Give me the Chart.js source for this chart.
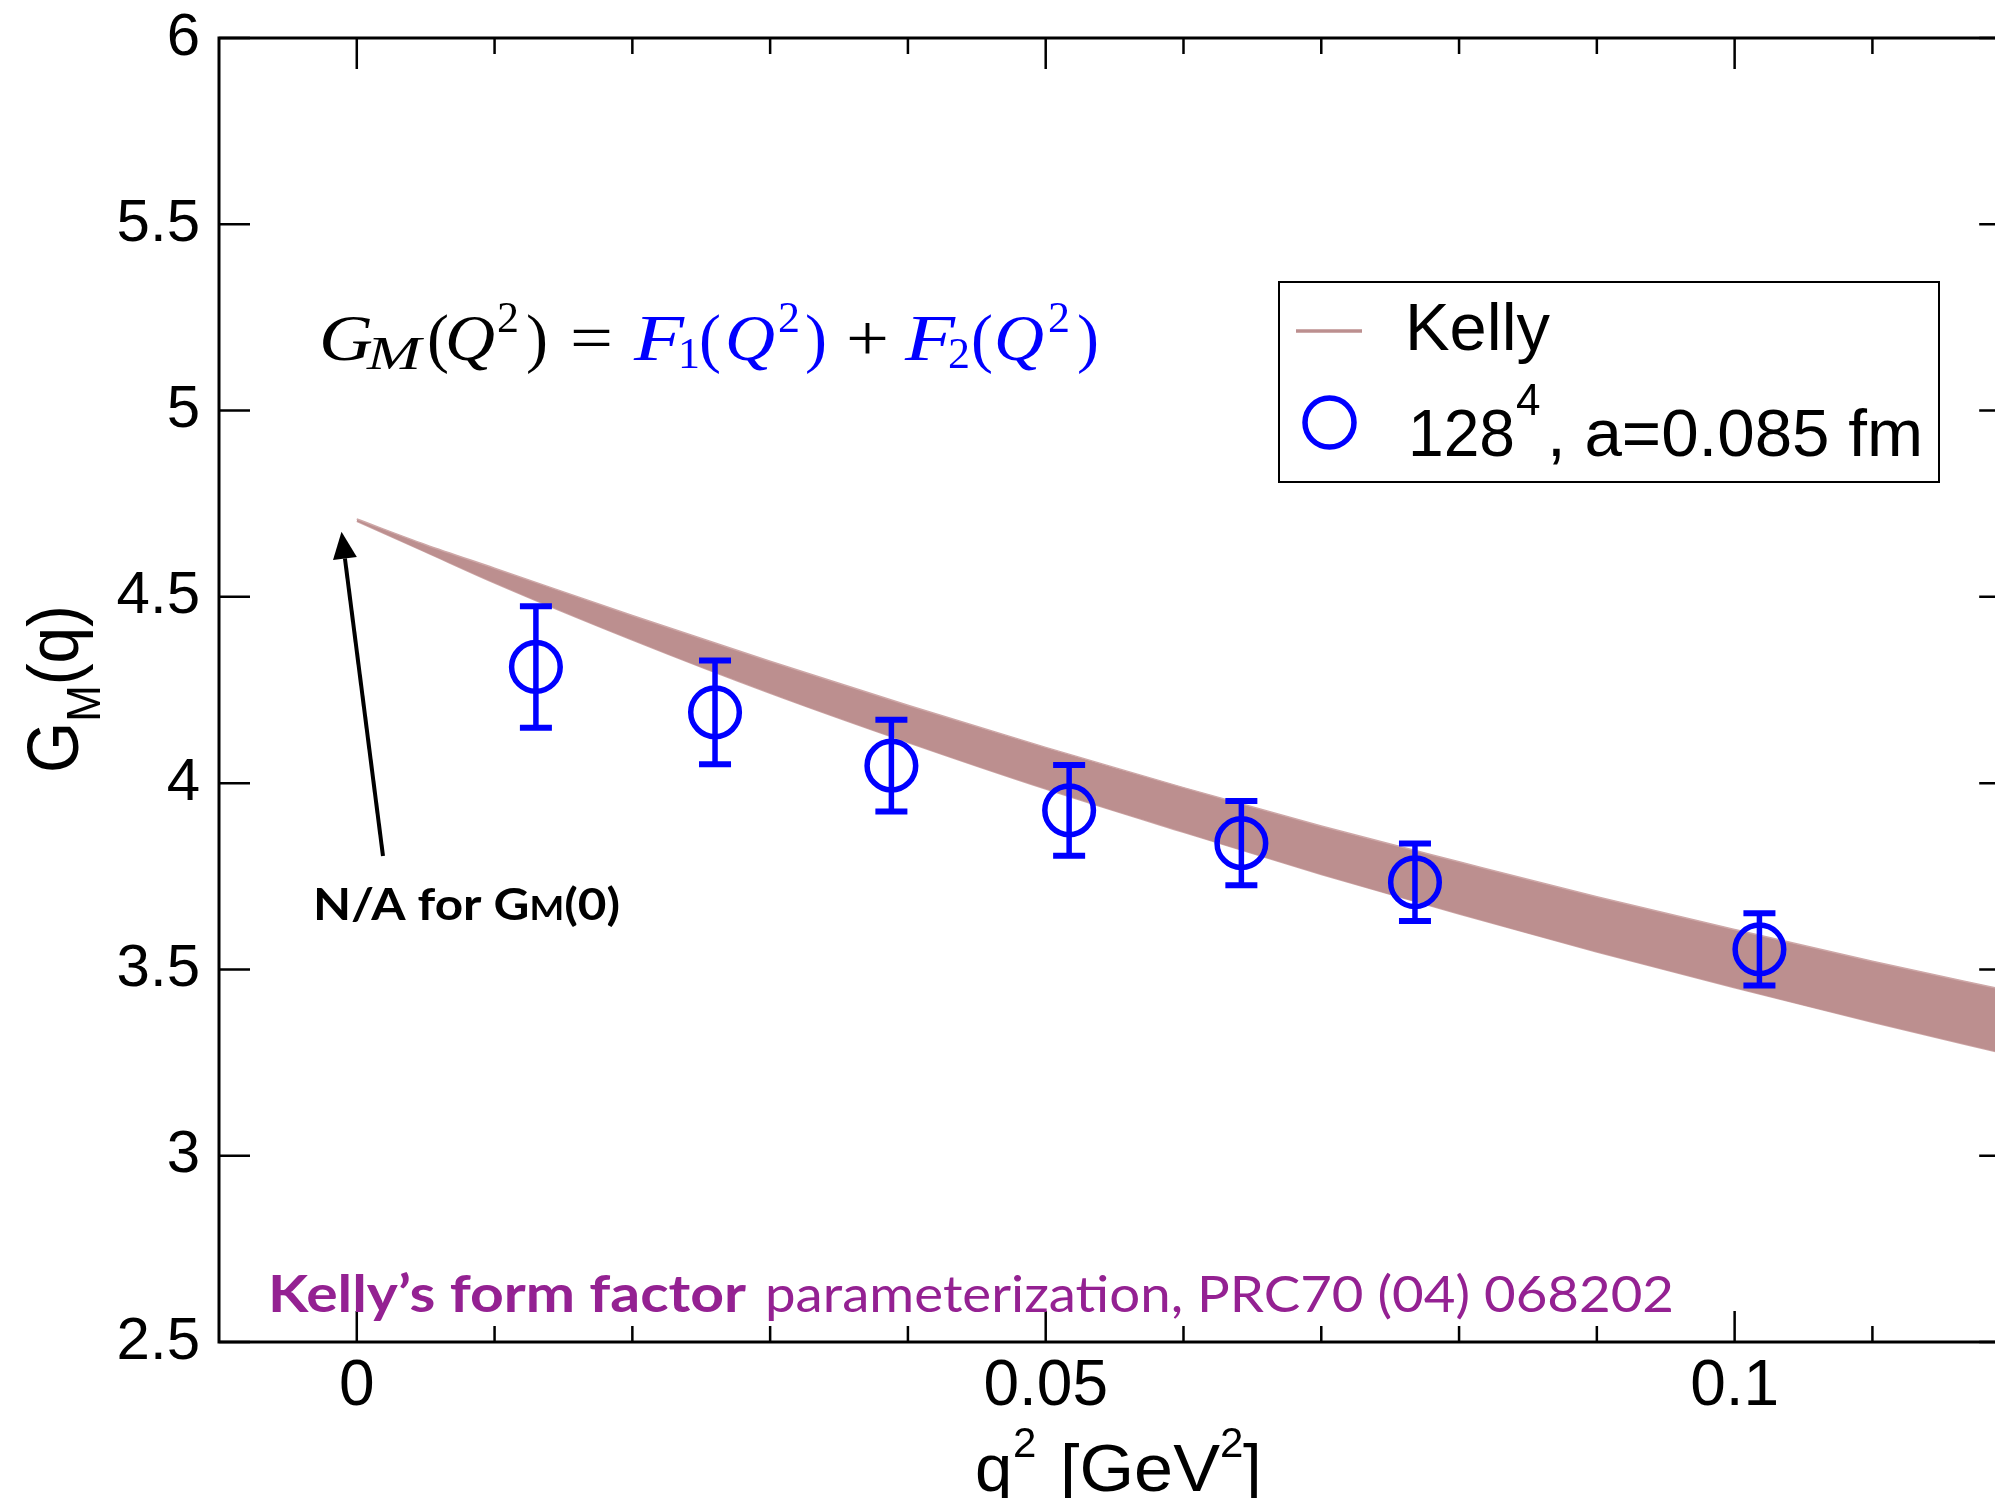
<!DOCTYPE html>
<html><head><meta charset="utf-8">
<script src="https://cdn.jsdelivr.net/npm/chart.js@4.4.1/dist/chart.umd.min.js"></script>
<style>
html,body{margin:0;padding:0;background:#fff;overflow:hidden;width:1995px;height:1498px;}
#wrap{position:absolute;left:0;top:0;width:2040px;height:1498px;}
canvas{display:block;}
</style></head><body>
<div id="wrap"><canvas id="c" width="2040" height="1498"></canvas></div>
<script>
// ---- data ----
const bandQ2    = [0,     0.005, 0.01,  0.02,  0.03,  0.04,  0.05,  0.06,  0.07,  0.08,  0.09,  0.10,  0.11,  0.12];
const bandUpper = [4.709, 4.640, 4.577, 4.450, 4.327, 4.209, 4.096, 3.988, 3.885, 3.789, 3.695, 3.607, 3.522, 3.442];
const bandLower = [4.703, 4.620, 4.537, 4.384, 4.241, 4.109, 3.984, 3.868, 3.755, 3.649, 3.547, 3.451, 3.358, 3.270];

const latticeQ2  = [0.0130, 0.0260, 0.0388, 0.0517, 0.0642, 0.0768, 0.1018];
const latticeGM  = [4.312,  4.190,  4.047,  3.927,  3.839,  3.734,  3.554];
const latticeErr = [0.163,  0.139,  0.123,  0.122,  0.113,  0.104,  0.097];

const xTicks = [0, 0.05, 0.1];
const xTickLabels = ['0', '0.05', '0.1'];
const xMinorTicks = [0.01, 0.02, 0.03, 0.04, 0.06, 0.07, 0.08, 0.09, 0.11];
const yTicks = [2.5, 3, 3.5, 4, 4.5, 5, 5.5, 6];
const yTickLabels = ['2.5', '3', '3.5', '4', '4.5', '5', '5.5', '6'];

const bandName = 'Kelly';
const latticeName = '128';
const latticeSup = '4';
const latticeRest = ', a=0.085 fm';

// ---- styles ----
const BAND = 'rgb(188,143,143)';
const BAND_EDGE = 'rgb(206,168,168)';
const BLUE = '#0000ff';
const PURPLE = '#942192';
const SANS = "'Liberation Sans', Arial, Helvetica, sans-serif";
const SERIF = "'Liberation Serif', 'Times New Roman', serif";
const HUM = "Lato, 'Open Sans', sans-serif";

function drawRuns(ctx, runs, x0, y0, targetW, rotate) {
  ctx.save();
  let total = 0;
  runs.forEach(r => { ctx.font = r.f; r.w = ctx.measureText(r.t).width; total += r.w; });
  const sx = targetW ? targetW / total : 1;
  ctx.translate(x0, y0);
  if (rotate) ctx.rotate(-Math.PI / 2);
  ctx.scale(sx, 1);
  ctx.textBaseline = 'alphabetic';
  ctx.textAlign = 'left';
  let x = 0;
  runs.forEach(r => { ctx.font = r.f; ctx.fillStyle = r.c || '#000'; ctx.fillText(r.t, x, r.dy || 0); x += r.w; });
  ctx.restore();
}
function put(ctx, t, f, c, x, y, w) {
  drawRuns(ctx, [{ t: t, f: f, c: c }], x, y, w);
}

const errorBarPlugin = {
  id: 'errorBars',
  afterDatasetsDraw(chart) {
    const { ctx, scales: { x, y } } = chart;
    ctx.save();
    ctx.strokeStyle = BLUE;
    ctx.lineCap = 'butt';
    latticeQ2.forEach((q, i) => {
      const px = x.getPixelForValue(q);
      const top = y.getPixelForValue(latticeGM[i] + latticeErr[i]);
      const bot = y.getPixelForValue(latticeGM[i] - latticeErr[i]);
      ctx.lineWidth = 5.5;
      ctx.beginPath(); ctx.moveTo(px, top); ctx.lineTo(px, bot); ctx.stroke();
      ctx.lineWidth = 6;
      ctx.beginPath();
      ctx.moveTo(px - 16, top); ctx.lineTo(px + 16, top);
      ctx.moveTo(px - 16, bot); ctx.lineTo(px + 16, bot);
      ctx.stroke();
    });
    ctx.restore();
  }
};

const framePlugin = {
  id: 'frame',
  afterDraw(chart) {
    const { ctx, chartArea: a, scales: { x, y } } = chart;
    ctx.save();
    ctx.strokeStyle = '#000';
    ctx.lineWidth = 3;
    ctx.strokeRect(a.left, a.top, a.right - a.left, a.bottom - a.top);
    ctx.lineWidth = 2.5;
    ctx.beginPath();
    xTicks.forEach(v => { const p = x.getPixelForValue(v);
      ctx.moveTo(p, a.bottom); ctx.lineTo(p, a.bottom - 31);
      ctx.moveTo(p, a.top); ctx.lineTo(p, a.top + 31); });
    xMinorTicks.forEach(v => { const p = x.getPixelForValue(v);
      ctx.moveTo(p, a.bottom); ctx.lineTo(p, a.bottom - 16);
      ctx.moveTo(p, a.top); ctx.lineTo(p, a.top + 16); });
    yTicks.forEach(v => { const p = y.getPixelForValue(v);
      ctx.moveTo(a.left, p); ctx.lineTo(a.left + 31, p);
      ctx.moveTo(a.right, p); ctx.lineTo(a.right - 31, p); });
    ctx.stroke();
    ctx.restore();
  }
};

const textPlugin = {
  id: 'texts',
  afterDraw(chart) {
    const ctx = chart.ctx;
    // y-axis title G_M(q)
    drawRuns(ctx, [
      { t: 'G', f: `72px ${SANS}` },
      { t: 'M', f: `48px ${SANS}`, dy: 22 },
      { t: '(q)', f: `72px ${SANS}` }
    ], 78, 773, 168, true);
    // x-axis title q^2 [GeV^2]
    put(ctx, 'q', `67px ${SANS}`, '#000', 975, 1491);
    put(ctx, '2', `42px ${SANS}`, '#000', 1013, 1457);
    put(ctx, '[GeV', `67px ${SANS}`, '#000', 1060, 1491, 160);
    put(ctx, '2', `42px ${SANS}`, '#000', 1220, 1457);
    put(ctx, ']', `67px ${SANS}`, '#000', 1243, 1491);

    // equation
    const it = `italic 66px ${SERIF}`, up = `66px ${SERIF}`, sIt = `italic 46px ${SERIF}`, sUp = `44px ${SERIF}`;
    put(ctx, 'G', it, '#000', 319, 360, 54);
    put(ctx, 'M', sIt, '#000', 367, 369, 54);
    put(ctx, '(', up, '#000', 427, 360);
    put(ctx, 'Q', it, '#000', 445, 360, 50);
    put(ctx, '2', sUp, '#000', 497, 332);
    put(ctx, ')', up, '#000', 526, 360);
    put(ctx, '=', up, '#000', 570, 360, 43);
    put(ctx, 'F', it, BLUE, 634, 360, 50);
    put(ctx, '1', sUp, BLUE, 678, 368);
    put(ctx, '(', up, BLUE, 699, 360);
    put(ctx, 'Q', it, BLUE, 725, 360, 50);
    put(ctx, '2', sUp, BLUE, 778, 332);
    put(ctx, ')', up, BLUE, 805, 360);
    put(ctx, '+', up, '#000', 846, 360, 43);
    put(ctx, 'F', it, BLUE, 905, 360, 50);
    put(ctx, '2', sUp, BLUE, 948, 368);
    put(ctx, '(', up, BLUE, 971, 360);
    put(ctx, 'Q', it, BLUE, 994, 360, 50);
    put(ctx, '2', sUp, BLUE, 1048, 332);
    put(ctx, ')', up, BLUE, 1077, 360);

    // arrow + note
    ctx.save();
    ctx.strokeStyle = '#000'; ctx.fillStyle = '#000'; ctx.lineWidth = 4;
    const x1 = 383, y1 = 856, x2 = 341.5, y2 = 531.7;
    const ang = Math.atan2(y2 - y1, x2 - x1);
    const hl = 27, hw = 12;
    const bx = x2 - hl * Math.cos(ang), by = y2 - hl * Math.sin(ang);
    ctx.beginPath(); ctx.moveTo(x1, y1); ctx.lineTo(bx, by); ctx.stroke();
    ctx.beginPath();
    ctx.moveTo(x2, y2);
    ctx.lineTo(bx + hw * Math.sin(ang), by - hw * Math.cos(ang));
    ctx.lineTo(bx - hw * Math.sin(ang), by + hw * Math.cos(ang));
    ctx.closePath(); ctx.fill();
    ctx.restore();
    drawRuns(ctx, [
      { t: 'N/A for G', f: `bold 43px ${HUM}` },
      { t: 'M', f: `bold 32px ${HUM}` },
      { t: '(0)', f: `bold 43px ${HUM}` }
    ], 313, 920, 307);

    // reference note
    put(ctx, 'Kelly\u2019s form factor', `bold 51px ${HUM}`, PURPLE, 268, 1312, 478);
    put(ctx, 'parameterization, PRC70 (04) 068202', `51px ${HUM}`, PURPLE, 765, 1312, 909);

    // legend
    ctx.save();
    ctx.fillStyle = '#fff'; ctx.fillRect(1279, 282, 660, 200);
    ctx.strokeStyle = '#000'; ctx.lineWidth = 2; ctx.strokeRect(1279, 282, 660, 200);
    ctx.strokeStyle = BAND; ctx.lineWidth = 3.5;
    ctx.beginPath(); ctx.moveTo(1296, 331); ctx.lineTo(1362, 331); ctx.stroke();
    ctx.strokeStyle = BLUE; ctx.lineWidth = 5.5;
    ctx.beginPath(); ctx.arc(1329.5, 422.5, 24.5, 0, Math.PI * 2); ctx.stroke();
    ctx.restore();
    put(ctx, bandName, `67px ${SANS}`, '#000', 1405, 350, 145);
    put(ctx, latticeName, `67px ${SANS}`, '#000', 1408, 456, 107);
    put(ctx, latticeSup, `44px ${SANS}`, '#000', 1516, 415);
    put(ctx, latticeRest, `67px ${SANS}`, '#000', 1547, 456, 376);
  }
};

const ctxEl = document.getElementById('c');
new Chart(ctxEl, {
  data: {
    datasets: [
      { type: 'line', label: bandName + ' upper', data: bandQ2.map((q, i) => ({ x: q, y: bandUpper[i] })),
        borderColor: BAND_EDGE, borderWidth: 1.5, backgroundColor: BAND, fill: '+1',
        pointRadius: 0, cubicInterpolationMode: 'monotone', order: 3 },
      { type: 'line', label: bandName + ' lower', data: bandQ2.map((q, i) => ({ x: q, y: bandLower[i] })),
        borderColor: BAND_EDGE, borderWidth: 1.5, backgroundColor: BAND, fill: false,
        pointRadius: 0, cubicInterpolationMode: 'monotone', order: 3 },
      { type: 'scatter', label: latticeName + '^' + latticeSup + latticeRest,
        data: latticeQ2.map((q, i) => ({ x: q, y: latticeGM[i] })),
        pointRadius: 24.3, pointBorderWidth: 5.5, pointBorderColor: BLUE,
        pointBackgroundColor: 'rgba(0,0,0,0)', showLine: false, order: 1 }
    ]
  },
  options: {
    responsive: false, animation: false, devicePixelRatio: 1, events: [],
    layout: { padding: { left: 0, top: 38, right: 29, bottom: 0 } },
    plugins: { legend: { display: false }, tooltip: { enabled: false } },
    scales: {
      x: {
        type: 'linear', position: 'bottom', min: -0.01, max: 0.12,
        grid: { display: false, drawTicks: false }, border: { display: false },
        ticks: { color: '#000', padding: 13, maxRotation: 0, autoSkip: false,
          font: { family: SANS, size: 64, lineHeight: 1 },
          callback: (v) => { const i = xTicks.findIndex(t => Math.abs(t - v) < 1e-9); return i >= 0 ? xTickLabels[i] : ''; } },
        afterBuildTicks: (s) => { s.ticks = xTicks.map(v => ({ value: v })); },
        afterFit: (s) => { s.height = 156; s.paddingLeft = 0; s.paddingRight = 0; }
      },
      y: {
        type: 'linear', position: 'left', min: 2.5, max: 6,
        grid: { display: false, drawTicks: false }, border: { display: false },
        ticks: { color: '#000', padding: 19, autoSkip: false,
          font: { family: SANS, size: 60, lineHeight: 1 },
          callback: (v) => { const i = yTicks.findIndex(t => Math.abs(t - v) < 1e-9); return i >= 0 ? yTickLabels[i] : ''; } },
        afterBuildTicks: (s) => { s.ticks = yTicks.map(v => ({ value: v })); },
        afterFit: (s) => { s.width = 219; s.paddingTop = 0; s.paddingBottom = 0; }
      }
    }
  },
  plugins: [errorBarPlugin, framePlugin, textPlugin]
});
</script>
</body></html>
